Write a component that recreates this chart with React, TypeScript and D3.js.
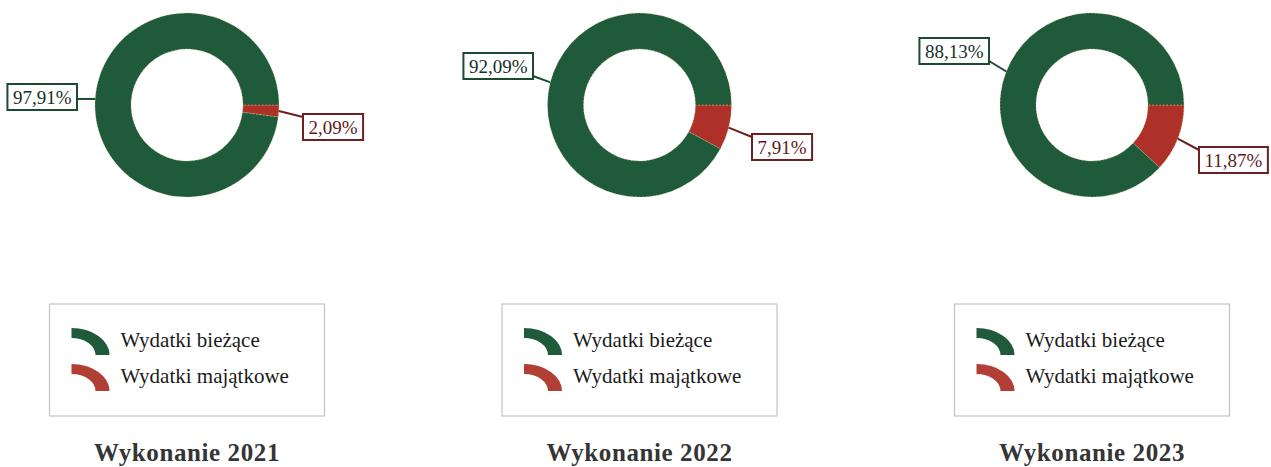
import React, { useEffect, useRef } from "react";
import * as d3 from "d3";

// ---- data ----
const categories = ["Wydatki bieżące", "Wydatki majątkowe"];
const titles = ["Wykonanie 2021", "Wykonanie 2022", "Wykonanie 2023"];
const biezace = [97.91, 92.09, 88.13];
const majatkowe = [2.09, 7.91, 11.87];

// ---- layout / style ----
const W = 1271;
const H = 467;
const FONT = "'Liberation Serif', 'Times New Roman', serif";
const GREEN = "#1f5a3b";
const RED = "#ad3128";
const LEG_GREEN = "#1f5a3b";
const LEG_RED = "#b23f36";
const GREEN_BORDER = "#1b4a30";
const RED_BORDER = "#6e1f1f";
const CY = 105;
const R_OUT = 92;
const R_IN = 56;
const BOX_H = 26;
const greenBoxes = [
  { right: 77, top: 84 },
  { right: 533, top: 53 },
  { right: 989, top: 38 },
];
const redBoxes = [
  { left: 303, top: 114 },
  { left: 752, top: 134 },
  { left: 1199, top: 147 },
];

const fmt = (v: number) => v.toFixed(2).replace(".", ",") + "%";

export default function App() {
  const ref = useRef<SVGSVGElement | null>(null);

  useEffect(() => {
    const svg = d3.select(ref.current);
    svg.selectAll("*").remove();

    const xScale = d3.scaleLinear().domain([0, 2]).range([187, 1092]);

    const pie = d3
      .pie<{ key: string; value: number }>()
      .sort(null)
      .value((d) => d.value)
      .startAngle(Math.PI / 2)
      .endAngle(Math.PI / 2 + 2 * Math.PI);

    const arc = d3
      .arc<d3.PieArcDatum<{ key: string; value: number }>>()
      .innerRadius(R_IN)
      .outerRadius(R_OUT);

    const iconArc = d3
      .arc<any>()
      .innerRadius(17)
      .outerRadius(27)
      .startAngle(0)
      .endAngle(Math.PI / 2);

    titles.forEach((title, i) => {
      const cx = xScale(i);
      const g = svg.append("g").attr("transform", `translate(${cx},${CY})`);
      const data = [
        { key: "maj", value: majatkowe[i] },
        { key: "biez", value: biezace[i] },
      ];
      const arcs = pie(data);
      g.selectAll("path.slice")
        .data(arcs)
        .join("path")
        .attr("class", "slice")
        .attr("d", arc as any)
        .attr("fill", (d) => (d.data.key === "maj" ? RED : GREEN))
        .attr("stroke", "#d8cf8a")
        .attr("stroke-width", 0.6)
        .attr("stroke-dasharray", "1.5,2");

      // labels
      arcs.forEach((a) => {
        const mid = (a.startAngle + a.endAngle) / 2;
        const px = cx + R_OUT * Math.sin(mid);
        const py = CY - R_OUT * Math.cos(mid);
        const isRed = a.data.key === "maj";
        const text = fmt(a.data.value);
        const border = isRed ? RED_BORDER : GREEN_BORDER;
        const textColor = isRed ? "#5e1a1a" : "#14301f";

        const t = svg
          .append("text")
          .attr("font-family", FONT)
          .attr("font-size", 19)
          .attr("fill", textColor)
          .text(text);
        const tw = (t.node() as SVGTextElement).getComputedTextLength();
        const bw = tw + 11;
        let bx: number, by: number;
        if (isRed) {
          bx = redBoxes[i].left;
          by = redBoxes[i].top;
        } else {
          bx = greenBoxes[i].right - bw;
          by = greenBoxes[i].top;
        }
        t.attr("x", bx + bw / 2)
          .attr("y", by + 19.5)
          .attr("text-anchor", "middle");

        const ax = isRed ? bx : bx + bw;
        const ay = Math.max(by + 3, Math.min(by + BOX_H - 3, py));
        svg
          .insert("line", "text")
          .attr("x1", px)
          .attr("y1", py)
          .attr("x2", ax)
          .attr("y2", ay)
          .attr("stroke", border)
          .attr("stroke-width", 2);
        svg
          .insert("rect", "text")
          .attr("x", bx)
          .attr("y", by)
          .attr("width", bw)
          .attr("height", BOX_H)
          .attr("fill", "#fff")
          .attr("stroke", border)
          .attr("stroke-width", 2);
      });

      // legend
      const lx = cx - 137.5;
      const ly = 304;
      const lg = svg.append("g").attr("transform", `translate(${lx},${ly})`);
      lg.append("rect")
        .attr("x", 0)
        .attr("y", 0)
        .attr("width", 275)
        .attr("height", 112)
        .attr("fill", "#fff")
        .attr("stroke", "#c4c4c4")
        .attr("stroke-width", 1.2);
      categories.forEach((c, j) => {
        const base = 43 + j * 36;
        lg.append("path")
          .attr("transform", `translate(22,${base + 8}) scale(1.41,1)`)
          .attr("d", iconArc({}) as string)
          .attr("fill", j === 0 ? LEG_GREEN : LEG_RED);
        lg.append("text")
          .attr("x", 71)
          .attr("y", base)
          .attr("font-family", FONT)
          .attr("font-size", 21)
          .attr("fill", "#1a1a1a")
          .text(c);
      });

      // title
      svg
        .append("text")
        .attr("x", cx)
        .attr("y", 461)
        .attr("text-anchor", "middle")
        .attr("font-family", FONT)
        .attr("font-size", 25)
        .attr("font-weight", "bold")
        .attr("letter-spacing", 0.6)
        .attr("fill", "#353535")
        .text(title);
    });
  }, []);

  return (
    <svg
      ref={ref}
      width={W}
      height={H}
      style={{ position: "absolute", left: 0, top: 0, background: "#fff" }}
    />
  );
}
